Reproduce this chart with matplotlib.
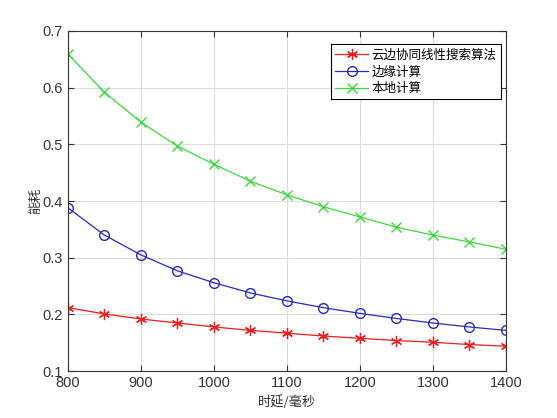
import numpy as np
import matplotlib
matplotlib.use("Agg")
import matplotlib.pyplot as plt

plt.rcParams['font.family'] = ['Liberation Sans', 'Noto Sans CJK SC', 'DejaVu Sans']

delay = [800, 850, 900, 950, 1000, 1050, 1100, 1150, 1200, 1250, 1300, 1350, 1400]
cloud_edge = [0.212, 0.201, 0.192, 0.185, 0.178, 0.172, 0.167, 0.162, 0.158, 0.154, 0.151, 0.147, 0.144]
edge = [0.388, 0.340, 0.305, 0.277, 0.256, 0.238, 0.224, 0.212, 0.202, 0.193, 0.185, 0.178, 0.172]
local = [0.659, 0.592, 0.539, 0.497, 0.465, 0.435, 0.411, 0.390, 0.372, 0.354, 0.340, 0.328, 0.315]

labels = ['云边协同线性搜索算法', '边缘计算', '本地计算']
cjk = ['Noto Sans CJK SC', 'DejaVu Sans']

fig = plt.figure(figsize=(5.57, 4.18), dpi=100)
ax = fig.add_axes([0.122, 0.112, 0.786, 0.814])

ax.plot(delay, cloud_edge, '-', color='#ee1c1c', marker=(6, 2, 0), markersize=8, lw=0.9,
        markeredgewidth=0.9, label=labels[0])
ax.plot(delay, edge, '-', color='#2a2ab4', marker='o', markersize=7, lw=0.9,
        markerfacecolor='none', label=labels[1])
ax.plot(delay, local, '-', color='#3ed83e', marker='x', markersize=7, lw=0.9,
        label=labels[2])

ax.set_xlim(800, 1400)
ax.set_ylim(0.1, 0.7)
ax.set_xticks(np.arange(800, 1401, 100))
ax.set_yticks(np.arange(0.1, 0.71, 0.1))
ax.set_yticklabels(['0.1', '0.2', '0.3', '0.4', '0.5', '0.6', '0.7'])
ax.grid(True, color='#dcdcdc', lw=0.8)
ax.set_axisbelow(True)
ax.tick_params(direction='in', top=True, right=True, labelsize=10.5, length=4,
               color='#333333', labelcolor='#333333')
for s in ax.spines.values():
    s.set_color('#333333')
    s.set_linewidth(0.8)

ax.set_xlabel('时延/毫秒', fontsize=9.5, color='#333333', labelpad=4, family=cjk)
ax.set_ylabel('能耗', fontsize=9.5, color='#333333', labelpad=0, family=cjk)

leg = ax.legend(loc='upper left', bbox_to_anchor=(0.601, 0.961),
                prop={'family': cjk, 'size': 9},
                frameon=True, fancybox=False, edgecolor='black', framealpha=1,
                borderpad=0.35, labelspacing=0.3, handlelength=2.6, handletextpad=0.3,
                borderaxespad=0)
leg.get_frame().set_linewidth(0.8)

fig.savefig('out.png', dpi=100)
